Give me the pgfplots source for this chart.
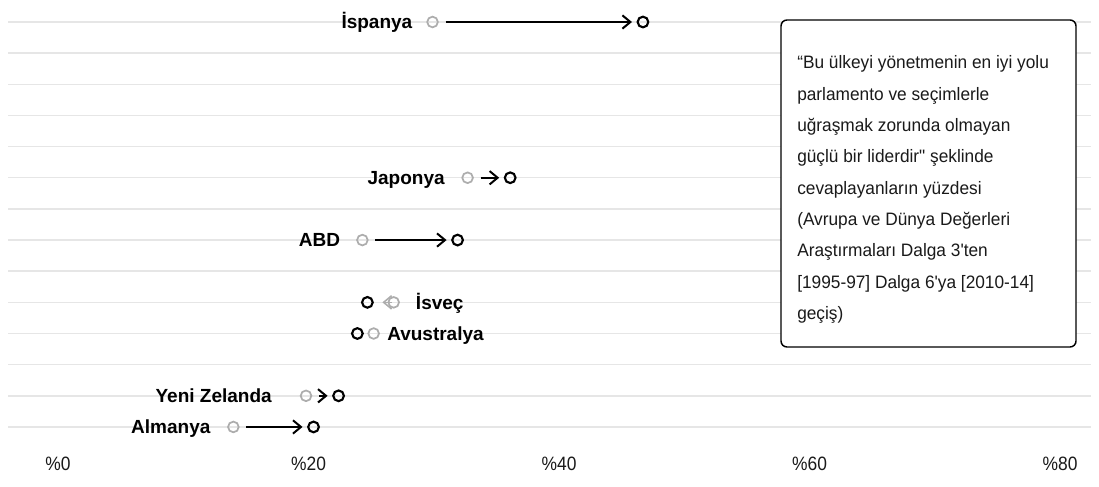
\documentclass[border=0pt]{standalone}
\usepackage{fontspec}
\setmainfont{Liberation Sans}
\newfontfamily\tickfont{Liberation Sans}[FakeStretch=0.9]
\newfontfamily\boxfont{Liberation Sans}[FakeStretch=0.96]
\usepackage{pgfplots}
\pgfplotsset{compat=1.18}
\usetikzlibrary{arrows.meta}
\definecolor{gridc}{HTML}{E6E6E6}
\definecolor{oldc}{HTML}{ADADAD}
\definecolor{txt}{HTML}{1A1A1A}
\tikzset{
  arr/.style={black, line width=1.5pt, -{Straight Barb[length=6pt,width=10pt]}, shorten <=9.75pt, shorten >=8.25pt},
  lab/.style={font=\fontsize{14.25}{17}\selectfont\bfseries, text=black, yshift=-5.1pt, inner sep=0pt},
}

\begin{document}
\begin{tikzpicture}
\useasboundingbox (0pt,0pt) rectangle (824.25pt,364.5pt);
\begin{axis}[
  at={(5.93pt,16.95pt)}, anchor=south west, scale only axis,
  width=812.6pt, height=347.4pt,
  xmin=-4, xmax=82.5, ymin=-1.17, ymax=13.7,
  axis line style={draw=none}, major tick length=0pt, tick style={draw=none},
  xtick={0,20,40,60,80}, xticklabels={\%0,\%20,\%40,\%60,\%80},
  xticklabel style={anchor=center, inner sep=0pt, font=\tickfont\fontsize{14.5}{17}\selectfont, text=txt},
  ytick={0,1,...,13}, yticklabels={}, ymajorgrids,
  grid style={draw=gridc, line width=1.1pt},
  clip=false,
]
% arrows
\addplot[arr, forget plot] coordinates {(29.9,13) (46.7,13)};
\addplot[arr, forget plot] coordinates {(32.7,8) (36.1,8)};
\addplot[arr, forget plot] coordinates {(24.3,6) (31.9,6)};
\addplot[arr, forget plot] coordinates {(19.8,1) (22.4,1)};
\addplot[arr, forget plot] coordinates {(14.0,0) (20.4,0)};
\addplot[arr, forget plot, oldc, line width=1.2pt, shorten <=1.5pt, shorten >=11.25pt] coordinates {(26.8,4) (24.7,4)};
% earlier wave (1995-97)
\addplot[only marks, mark=o, mark size=4pt, color=oldc, mark options={line width=1.3pt}]
  coordinates {(29.9,13) (32.7,8) (24.3,6) (26.8,4) (25.2,3) (19.8,1) (14.0,0)};
% later wave (2010-14)
\addplot[only marks, mark=o, mark size=4pt, color=black, mark options={line width=1.6pt}]
  coordinates {(46.7,13) (36.1,8) (31.9,6) (24.7,4) (23.9,3) (22.4,1) (20.4,0)};
% labels
\node[lab, anchor=base east, xshift=-15pt] at (axis cs:29.9,13) {İspanya};
\node[lab, anchor=base east, xshift=-17pt] at (axis cs:32.7,8) {Japonya};
\node[lab, anchor=base east, xshift=-16.5pt] at (axis cs:24.3,6) {ABD};
\node[lab, anchor=base west, xshift=16.5pt] at (axis cs:26.8,4) {İsveç};
\node[lab, anchor=base west, xshift=10pt] at (axis cs:25.2,3) {Avustralya};
\node[lab, anchor=base east, xshift=-25.5pt] at (axis cs:19.8,1) {Yeni Zelanda};
\node[lab, anchor=base east, xshift=-17pt] at (axis cs:14.0,0) {Almanya};
\end{axis}
% annotation box
\draw[black, line width=1.1pt, rounded corners=4.5pt, fill=white] (585.75pt,104.25pt) rectangle (807pt,349.5pt);
\begin{scope}[every node/.style={anchor=base west, inner sep=0pt, text=txt, font=\boxfont\fontsize{13.5}{16}\selectfont}]
\node at (597.75pt,312.75pt) {“Bu ülkeyi yönetmenin en iyi yolu};
\node at (597.75pt,289.25pt) {parlamento ve seçimlerle};
\node at (597.75pt,265.75pt) {uğraşmak zorunda olmayan};
\node at (597.75pt,242.25pt) {güçlü bir liderdir" şeklinde};
\node at (597.75pt,218.75pt) {cevaplayanların yüzdesi};
\node at (597.75pt,195.25pt) {(Avrupa ve Dünya Değerleri};
\node at (597.75pt,171.75pt) {Araştırmaları Dalga 3'ten};
\node at (597.75pt,148.25pt) {[1995-97] Dalga 6'ya [2010-14]};
\node at (597.75pt,124.75pt) {geçiş)};
\end{scope}
\end{tikzpicture}
\end{document}
